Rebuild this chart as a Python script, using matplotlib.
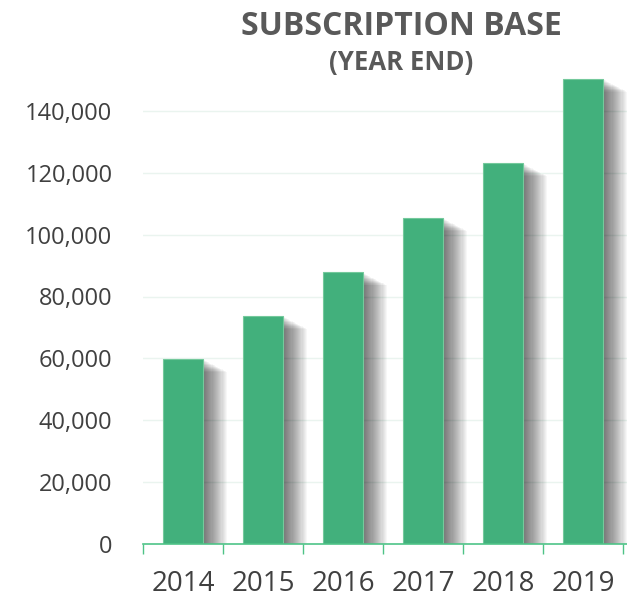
import matplotlib
matplotlib.use("Agg")
import matplotlib.pyplot as plt
import matplotlib.patheffects as pe
from matplotlib.ticker import FuncFormatter, FixedLocator

years = ["2014", "2015", "2016", "2017", "2018", "2019"]
subscribers = [59800, 73700, 87800, 105400, 123100, 150400]
y_ticks = [0, 20000, 40000, 60000, 80000, 100000, 120000, 140000]
title_line1 = "SUBSCRIPTION BASE"
title_line2 = "(YEAR END)"

BAR = "#42b07c"
AXIS_GREEN = "#4ec387"
GRID = "#eaf4ef"
TXT = "#404040"
TITLE = "#595959"

plt.rcParams["font.family"] = ["Open Sans", "DejaVu Sans"]

fig = plt.figure(figsize=(6.27, 5.99), dpi=100)
ax = fig.add_axes([143 / 627, 55 / 599, 1 - 143 / 627, (544 - 49) / 599])

x = list(range(len(years)))

# blurred drop shadow via stacked offset shadows
effects = []
for k in range(1, 23):
    effects.append(pe.SimplePatchShadow(offset=(k * 0.8, -k * 0.42),
                                        shadow_rgbFace="black", alpha=0.033))
effects.append(pe.Normal())

bars = ax.bar(x, subscribers, width=0.49, color=BAR, edgecolor="#74c99c",
              linewidth=0.8, zorder=3, path_effects=effects)

ax.set_xlim(-0.5, 5.55)
ax.set_ylim(0, 160000)

ax.set_yticks(y_ticks)
ax.yaxis.set_major_formatter(FuncFormatter(lambda v, p: f"{int(v):,}"))
ax.tick_params(axis="y", length=0, pad=22, labelsize=17, labelcolor=TXT)

ax.set_xticks(x)
ax.set_xticklabels(years)
ax.tick_params(axis="x", which="major", length=0, pad=19, labelsize=20, labelcolor=TXT)
ax.xaxis.set_minor_locator(FixedLocator([i - 0.5 for i in range(len(years) + 1)]))
ax.tick_params(axis="x", which="minor", length=7.2, width=1, color=AXIS_GREEN, direction="out")

for v in y_ticks[1:]:
    ax.axhline(v, color=GRID, linewidth=1, zorder=1)

for s in ["top", "right", "left"]:
    ax.spines[s].set_visible(False)
ax.spines["bottom"].set_color(AXIS_GREEN)
ax.spines["bottom"].set_linewidth(1.2)
ax.spines["bottom"].set_zorder(4)

fig.text(401 / 627, 1 - 35 / 599, title_line1, ha="center", va="baseline",
         fontsize=23, fontweight="bold", color=TITLE)
fig.text(401 / 627, 1 - 70 / 599, title_line2, ha="center", va="baseline",
         fontsize=18.5, fontweight="bold", color=TITLE)

fig.savefig("out.png", dpi=100)
